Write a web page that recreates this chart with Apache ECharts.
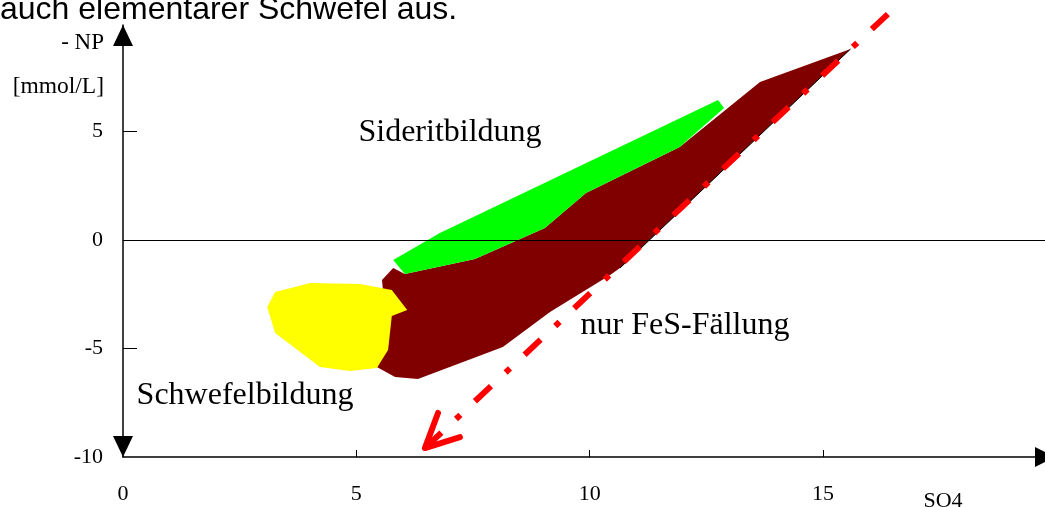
<!DOCTYPE html>
<html>
<head>
<meta charset="utf-8">
<script src="https://cdn.jsdelivr.net/npm/echarts@6/dist/echarts.min.js"></script>
<style>html,body{margin:0;padding:0;background:#fff}#c{width:1045px;height:507px}</style>
</head>
<body>
<div id="c"></div>
<script>
// Region polygons [SO4, -NP]
const fesRegion = [
  [15.59, 8.80], [13.65, 7.28], [11.93, 4.29], [9.92, 2.17], [9.04, 0.55],
  [7.54, -0.88], [6.04, -1.57], [5.79, -1.29], [5.55, -1.84], [5.57, -2.30],
  [5.50, -4.00], [5.40, -5.81], [5.83, -6.31], [6.32, -6.41], [8.14, -4.93],
  [9.15, -3.32], [10.44, -1.61], [10.65, -1.29]
];
const sideritRegion = [
  [5.79, -0.92], [6.79, 0.32], [12.75, 6.45], [12.88, 6.08], [11.93, 4.29],
  [9.92, 2.17], [9.04, 0.55], [7.54, -0.88], [6.04, -1.57]
];
const schwefelRegion = [
  [3.26, -2.40], [4.01, -1.98], [5.08, -2.03], [5.76, -2.30], [6.09, -3.23],
  [5.76, -3.50], [5.68, -5.07], [5.44, -5.90], [4.86, -6.04], [4.22, -5.85],
  [3.26, -4.29], [3.09, -3.09]
];
const fesEdge = [[10.65, -1.29], [15.59, 8.80]];
const trendLine = [[16.39, 10.41], [6.47, -9.59]];
const arrowHead = [[6.75, -7.97], [6.47, -9.59], [7.22, -9.08]];
const xTickLabels = [0, 5, 10, 15];
const xTicks = [5, 10, 15];
const yTickLabels = [-10, -5, 0, 5];
const yTicks = [-5, 0, 5];
const regionLabels = ['Sideritbildung', 'nur FeS-Fällung', 'Schwefelbildung'];

const serif = "'Liberation Serif', 'DejaVu Serif', serif";
const chart = echarts.init(document.getElementById('c'), null, {renderer: 'canvas'});

function polySeries(points, color, z) {
  return {
    type: 'custom', z: z, silent: true, clip: false,
    data: [0],
    renderItem: function (params, api) {
      return {type: 'polygon', shape: {points: points.map(p => api.coord(p))}, style: {fill: color, stroke: null}};
    }
  };
}

chart.setOption({
  animation: false,
  grid: {left: 123, right: 0, top: 25, bottom: 50},
  xAxis: {
    type: 'value', min: 0, max: 19.757,
    splitLine: {show: false},
    axisLine: {onZero: false, lineStyle: {color: '#000', width: 1.5}, symbol: ['none', 'triangle'], symbolSize: [20, 20]},
    axisTick: {show: true, inside: true, length: 7, customValues: xTicks, lineStyle: {color: '#000', width: 1}},
    axisLabel: {customValues: xTickLabels, margin: 26, color: '#000', fontSize: 22, fontFamily: serif}
  },
  yAxis: {
    type: 'value', min: -10, max: 9.908,
    splitLine: {show: false},
    axisLine: {onZero: false, lineStyle: {color: '#000', width: 1.5}, symbol: ['triangle', 'triangle'], symbolSize: [20, 21], symbolOffset: [10.5, -10.5]},
    axisTick: {show: true, inside: true, length: 14, customValues: yTicks, lineStyle: {color: '#000', width: 1}},
    axisLabel: {customValues: yTickLabels, margin: 20, color: '#000', fontSize: 22, fontFamily: serif, padding: [8, 0, 0, 0]}
  },
  series: [
    polySeries(fesRegion, '#800000', 2),
    polySeries(sideritRegion, '#00ff00', 3),
    polySeries(schwefelRegion, '#ffff00', 4),
    {
      type: 'line', z: 5, data: fesEdge, symbol: 'none', silent: true,
      lineStyle: {color: '#000', width: 1},
      markLine: {
        silent: true, symbol: 'none', label: {show: false},
        lineStyle: {color: '#000', width: 1, type: 'solid'},
        data: [{yAxis: 0}]
      }
    },
    {
      type: 'line', z: 6, data: trendLine, symbol: 'none', clip: false, silent: true,
      lineStyle: {color: '#ff0000', width: 6, type: [22, 20, 6, 20], cap: 'butt'}
    },
    {
      type: 'line', z: 6, data: arrowHead, symbol: 'none', clip: false, silent: true,
      lineStyle: {color: '#ff0000', width: 6, cap: 'round', join: 'round'}
    }
  ],
  graphic: [
    {type: 'text', left: 0, top: -6, silent: true,
     style: {text: 'auch elementarer Schwefel aus.', fill: '#000', font: "32px 'Liberation Sans', Arial, sans-serif"}},
    {type: 'text', x: 104, y: 43, silent: true,
     style: {text: '- NP', fill: '#000', font: "23px " + serif, textAlign: 'right', textVerticalAlign: 'middle'}},
    {type: 'text', x: 104, y: 87, silent: true,
     style: {text: '[mmol/L]', fill: '#000', font: "23.5px " + serif, textAlign: 'right', textVerticalAlign: 'middle'}},
    {type: 'text', x: 943, y: 501, silent: true,
     style: {text: 'SO4', fill: '#000', font: "22px " + serif, textAlign: 'center', textVerticalAlign: 'middle'}},
    {type: 'text', x: 450, y: 133, silent: true,
     style: {text: regionLabels[0], fill: '#000', font: "32px " + serif, textAlign: 'center', textVerticalAlign: 'middle'}},
    {type: 'text', x: 685, y: 326, silent: true,
     style: {text: regionLabels[1], fill: '#000', font: "32px " + serif, textAlign: 'center', textVerticalAlign: 'middle'}},
    {type: 'text', x: 245, y: 396, silent: true,
     style: {text: regionLabels[2], fill: '#000', font: "32px " + serif, textAlign: 'center', textVerticalAlign: 'middle'}}
  ]
});
</script>
</body>
</html>
